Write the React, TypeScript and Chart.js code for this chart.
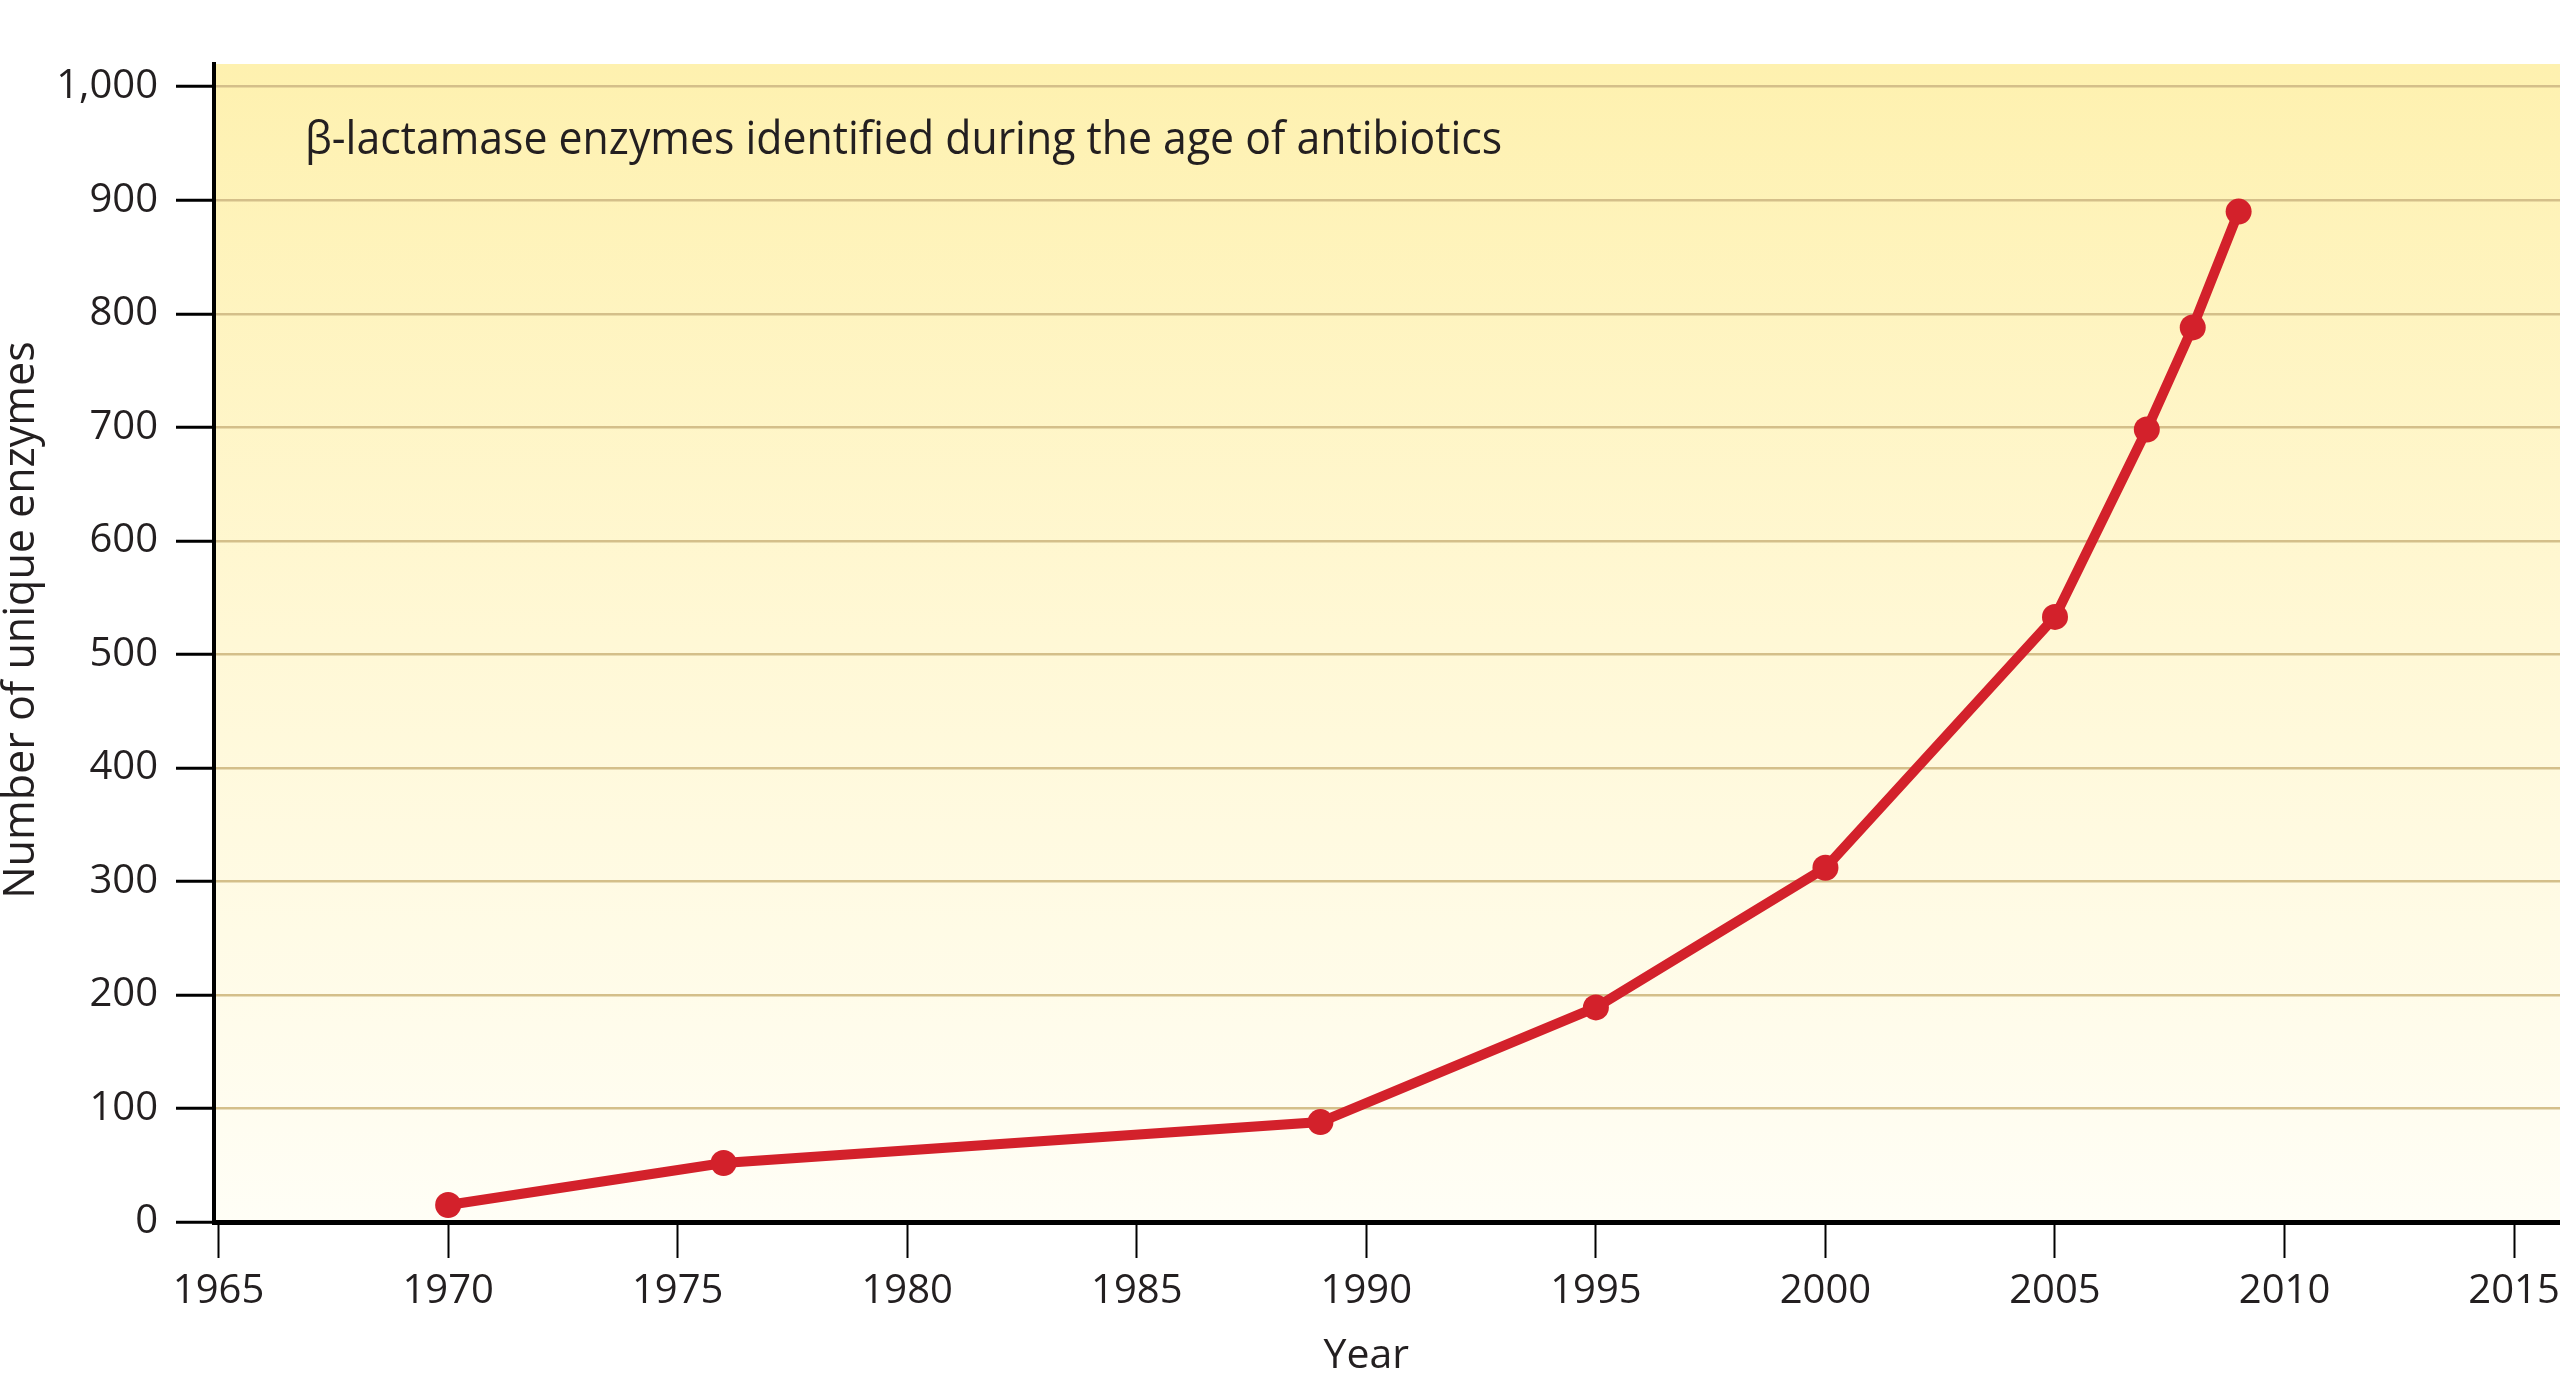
import React, { useEffect, useRef } from "react";
import { Chart, registerables } from "chart.js";

Chart.register(...registerables);

const years = [1970, 1976, 1989, 1995, 2000, 2005, 2007, 2008, 2009];
const enzymeCounts = [15, 52, 88, 189, 312, 533, 698, 788, 890];
const xTickYears = [1965, 1970, 1975, 1980, 1985, 1990, 1995, 2000, 2005, 2010, 2015];
const yTickValues = [0, 100, 200, 300, 400, 500, 600, 700, 800, 900, 1000];
const titleText = "β-lactamase enzymes identified during the age of antibiotics";
const xAxisTitle = "Year";
const yAxisTitle = "Number of unique enzymes";

const FONT = "'Open Sans', 'DejaVu Sans', sans-serif";
const TEXT = "#231F20";

const bgPlugin = {
  id: "bgGradient",
  beforeDraw(chart: any) {
    const { ctx, chartArea } = chart;
    if (!chartArea) return;
    const g = ctx.createLinearGradient(0, chartArea.top, 0, chartArea.bottom);
    g.addColorStop(0, "#FEF1AF");
    g.addColorStop(0.5, "#FFF8D6");
    g.addColorStop(1, "#FFFEF6");
    ctx.save();
    ctx.fillStyle = g;
    ctx.fillRect(chartArea.left, chartArea.top, chartArea.right - chartArea.left, chartArea.bottom - chartArea.top);
    ctx.restore();
  },
};

const textPlugin = {
  id: "texts",
  afterDraw(chart: any) {
    const { ctx, scales } = chart;
    ctx.save();
    ctx.fillStyle = TEXT;
    ctx.textBaseline = "middle";

    ctx.save();
    ctx.translate(305, 141);
    ctx.scale(0.93, 1);
    ctx.font = `46px ${FONT}`;
    ctx.textAlign = "left";
    ctx.fillText(titleText, 0, 0);
    ctx.restore();

    ctx.font = `41px ${FONT}`;
    ctx.textAlign = "center";
    ctx.fillText(xAxisTitle, scales.x.getPixelForValue(1990), 1356);

    ctx.translate(22, 620);
    ctx.rotate(-Math.PI / 2);
    ctx.font = `43px ${FONT}`;
    ctx.fillText(yAxisTitle, 0, 0);
    ctx.restore();
  },
};

export default function App() {
  const ref = useRef<HTMLCanvasElement | null>(null);
  useEffect(() => {
    if (!ref.current) return;
    const chart = new Chart(ref.current, {
      type: "line",
      data: {
        datasets: [
          {
            data: years.map((y, i) => ({ x: y, y: enzymeCounts[i] })),
            borderColor: "#D3212B",
            backgroundColor: "#D3212B",
            borderWidth: 10,
            pointRadius: 13,
            pointBorderWidth: 0,
            pointHoverRadius: 13,
            tension: 0,
          },
        ],
      },
      options: {
        animation: false,
        responsive: false,
        maintainAspectRatio: false,
        layout: { autoPadding: false, padding: { top: 64, right: 0, left: 0, bottom: 0 } },
        plugins: { legend: { display: false }, tooltip: { enabled: false } },
        scales: {
          x: {
            type: "linear",
            min: 1964.9,
            max: 2016,
            afterBuildTicks: (scale: any) => {
              scale.ticks = xTickYears.map((v) => ({ value: v }));
            },
            afterFit: (scale: any) => {
              scale.height = 160;
              scale.paddingRight = 0;
              scale.paddingLeft = 0;
            },
            ticks: {
              callback: (v: any) => String(v),
              font: { family: FONT, size: 40 },
              color: TEXT,
              padding: 10,
              maxRotation: 0,
              autoSkip: false,
            },
            grid: {
              drawOnChartArea: false,
              drawTicks: true,
              tickLength: 36,
              tickColor: "#000",
              tickWidth: 2,
            },
            border: { color: "#000", width: 5 },
          },
          y: {
            type: "linear",
            min: 0,
            max: 1020,
            afterBuildTicks: (scale: any) => {
              scale.ticks = yTickValues.map((v) => ({ value: v }));
            },
            afterFit: (scale: any) => {
              scale.width = 214;
            },
            ticks: {
              callback: (v: any) => Number(v).toLocaleString("en-US"),
              font: { family: FONT, size: 40 },
              color: TEXT,
              padding: 18,
              autoSkip: false,
            },
            grid: {
              color: (c: any) => (c.tick && c.tick.value === 0 ? "rgba(0,0,0,0)" : "#D4BF8A"),
              lineWidth: 2.5,
              drawTicks: true,
              tickLength: 38,
              tickColor: "#000",
              tickWidth: 3,
            },
            border: { color: "#000", width: 4 },
          },
        },
      },
      plugins: [bgPlugin, textPlugin],
    });
    return () => chart.destroy();
  }, []);

  return (
    <div style={{ position: "absolute", left: 0, top: 0, width: 2560, height: 1382, background: "#fff", overflow: "hidden" }}>
      <canvas ref={ref} width={2560} height={1382} style={{ width: 2560, height: 1382, display: "block" }} />
    </div>
  );
}
